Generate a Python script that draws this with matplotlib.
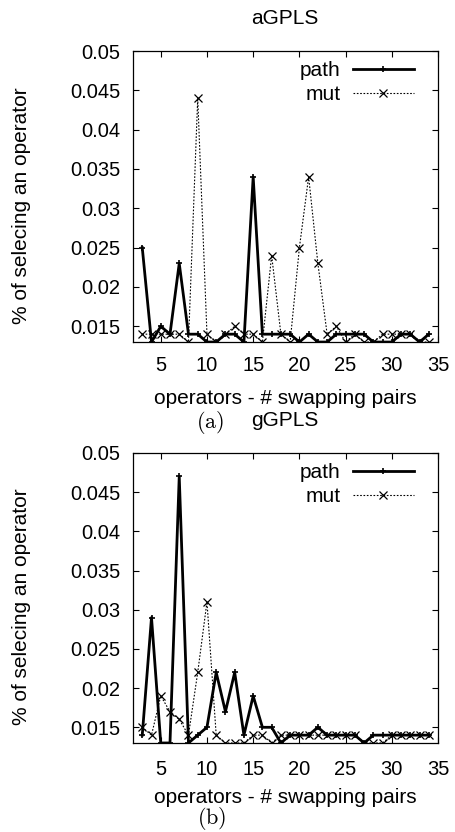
import matplotlib
matplotlib.use("Agg")
import matplotlib.pyplot as plt
from matplotlib.ticker import FixedLocator, FuncFormatter

plt.rcParams['font.family'] = ['Liberation Sans', 'DejaVu Sans']
plt.rcParams['mathtext.fontset'] = 'cm'

# ---- data ----
ops = list(range(3, 35))

a_path = [0.025, 0.013, 0.015, 0.014, 0.023, 0.014, 0.014, 0.013, 0.013, 0.014,
          0.014, 0.013, 0.034, 0.014, 0.014, 0.014, 0.014, 0.013, 0.014, 0.013,
          0.013, 0.014, 0.014, 0.014, 0.014, 0.013, 0.013, 0.013, 0.014, 0.014,
          0.013, 0.014]
a_mut = [0.014, 0.014, 0.014, 0.014, 0.014, 0.013, 0.044, 0.014, 0.013, 0.014,
         0.015, 0.014, 0.014, 0.013, 0.024, 0.014, 0.013, 0.025, 0.034, 0.023,
         0.014, 0.015, 0.013, 0.014, 0.013, 0.013, 0.014, 0.014, 0.014, 0.014,
         0.013, 0.013]

b_path = [0.014, 0.029, 0.013, 0.013, 0.047, 0.013, 0.014, 0.015, 0.022, 0.017,
          0.022, 0.014, 0.019, 0.015, 0.015, 0.013, 0.014, 0.014, 0.014, 0.015,
          0.014, 0.014, 0.014, 0.014, 0.013, 0.014, 0.014, 0.014, 0.014, 0.014,
          0.014, 0.014]
b_mut = [0.015, 0.014, 0.019, 0.017, 0.016, 0.014, 0.022, 0.031, 0.014, 0.013,
         0.013, 0.013, 0.014, 0.014, 0.013, 0.014, 0.014, 0.014, 0.014, 0.014,
         0.014, 0.014, 0.014, 0.014, 0.013, 0.013, 0.013, 0.014, 0.014, 0.014,
         0.014, 0.014]

xticks = [5, 10, 15, 20, 25, 30, 35]
yticks = [0.015, 0.02, 0.025, 0.03, 0.035, 0.04, 0.045, 0.05]
titles = ['aGPLS', 'gGPLS']
sublabels = [r'$(\mathrm{a})$', r'$(\mathrm{b})$']
xlabel = 'operators - # swapping pairs'
ylabel = '% of selecing an operator'

FS = 15
TFS = 14.5
SFS = 16

fig = plt.figure(figsize=(4.56, 8.32), dpi=100)
ax_a = fig.add_axes([0.2917, 0.5889, 0.6689, 0.3498])
ax_b = fig.add_axes([0.2917, 0.1070, 0.6689, 0.3486])

for ax, path, mut, xpad in [(ax_a, a_path, a_mut, 10), (ax_b, b_path, b_mut, 12)]:
    ax.plot(ops, path, color='black', lw=2.0, marker='+', ms=4, mew=1.2,
            label='path', zorder=3)
    ax.plot(ops, mut, color='black', lw=0.8, ls=(0, (1.5, 1.5)), marker='x',
            ms=5.5, mew=0.9, label='mut', zorder=2)
    ax.set_xlim(2, 35)
    ax.set_ylim(0.013, 0.05)
    ax.xaxis.set_major_locator(FixedLocator(xticks))
    ax.yaxis.set_major_locator(FixedLocator(yticks))
    ax.yaxis.set_major_formatter(FuncFormatter(lambda v, p: '%g' % v))
    ax.tick_params(direction='in', length=4.5, width=0.8, top=True, right=True,
                   labelsize=TFS)
    ax.tick_params(axis='x', pad=xpad)
    ax.tick_params(axis='y', pad=9)
    for s in ax.spines.values():
        s.set_linewidth(0.9)
    ax.set_xlabel(xlabel, fontsize=FS)
    ax.set_ylabel(ylabel, fontsize=FS)
    ax.yaxis.set_label_coords(-0.335, 0.47)
    ax.legend(loc='upper right', bbox_to_anchor=(0.92, 0.965), frameon=False,
              markerfirst=False, fontsize=FS, handlelength=2.9,
              handletextpad=0.6, labelspacing=0.25, borderpad=0.0,
              borderaxespad=0.0)

ax_a.xaxis.set_label_coords(0.5, -0.16)
ax_b.xaxis.set_label_coords(0.5, -0.155)

fig.text(285 / 456, 1 - 18 / 832, titles[0], ha='center', va='center', fontsize=FS)
fig.text(210 / 456, 1 - 422 / 832, sublabels[0], ha='center', va='center', fontsize=SFS)
fig.text(285 / 456, 1 - 420 / 832, titles[1], ha='center', va='center', fontsize=FS)
fig.text(212 / 456, 1 - 818 / 832, sublabels[1], ha='center', va='center', fontsize=SFS)

fig.savefig('out.png', dpi=100)
